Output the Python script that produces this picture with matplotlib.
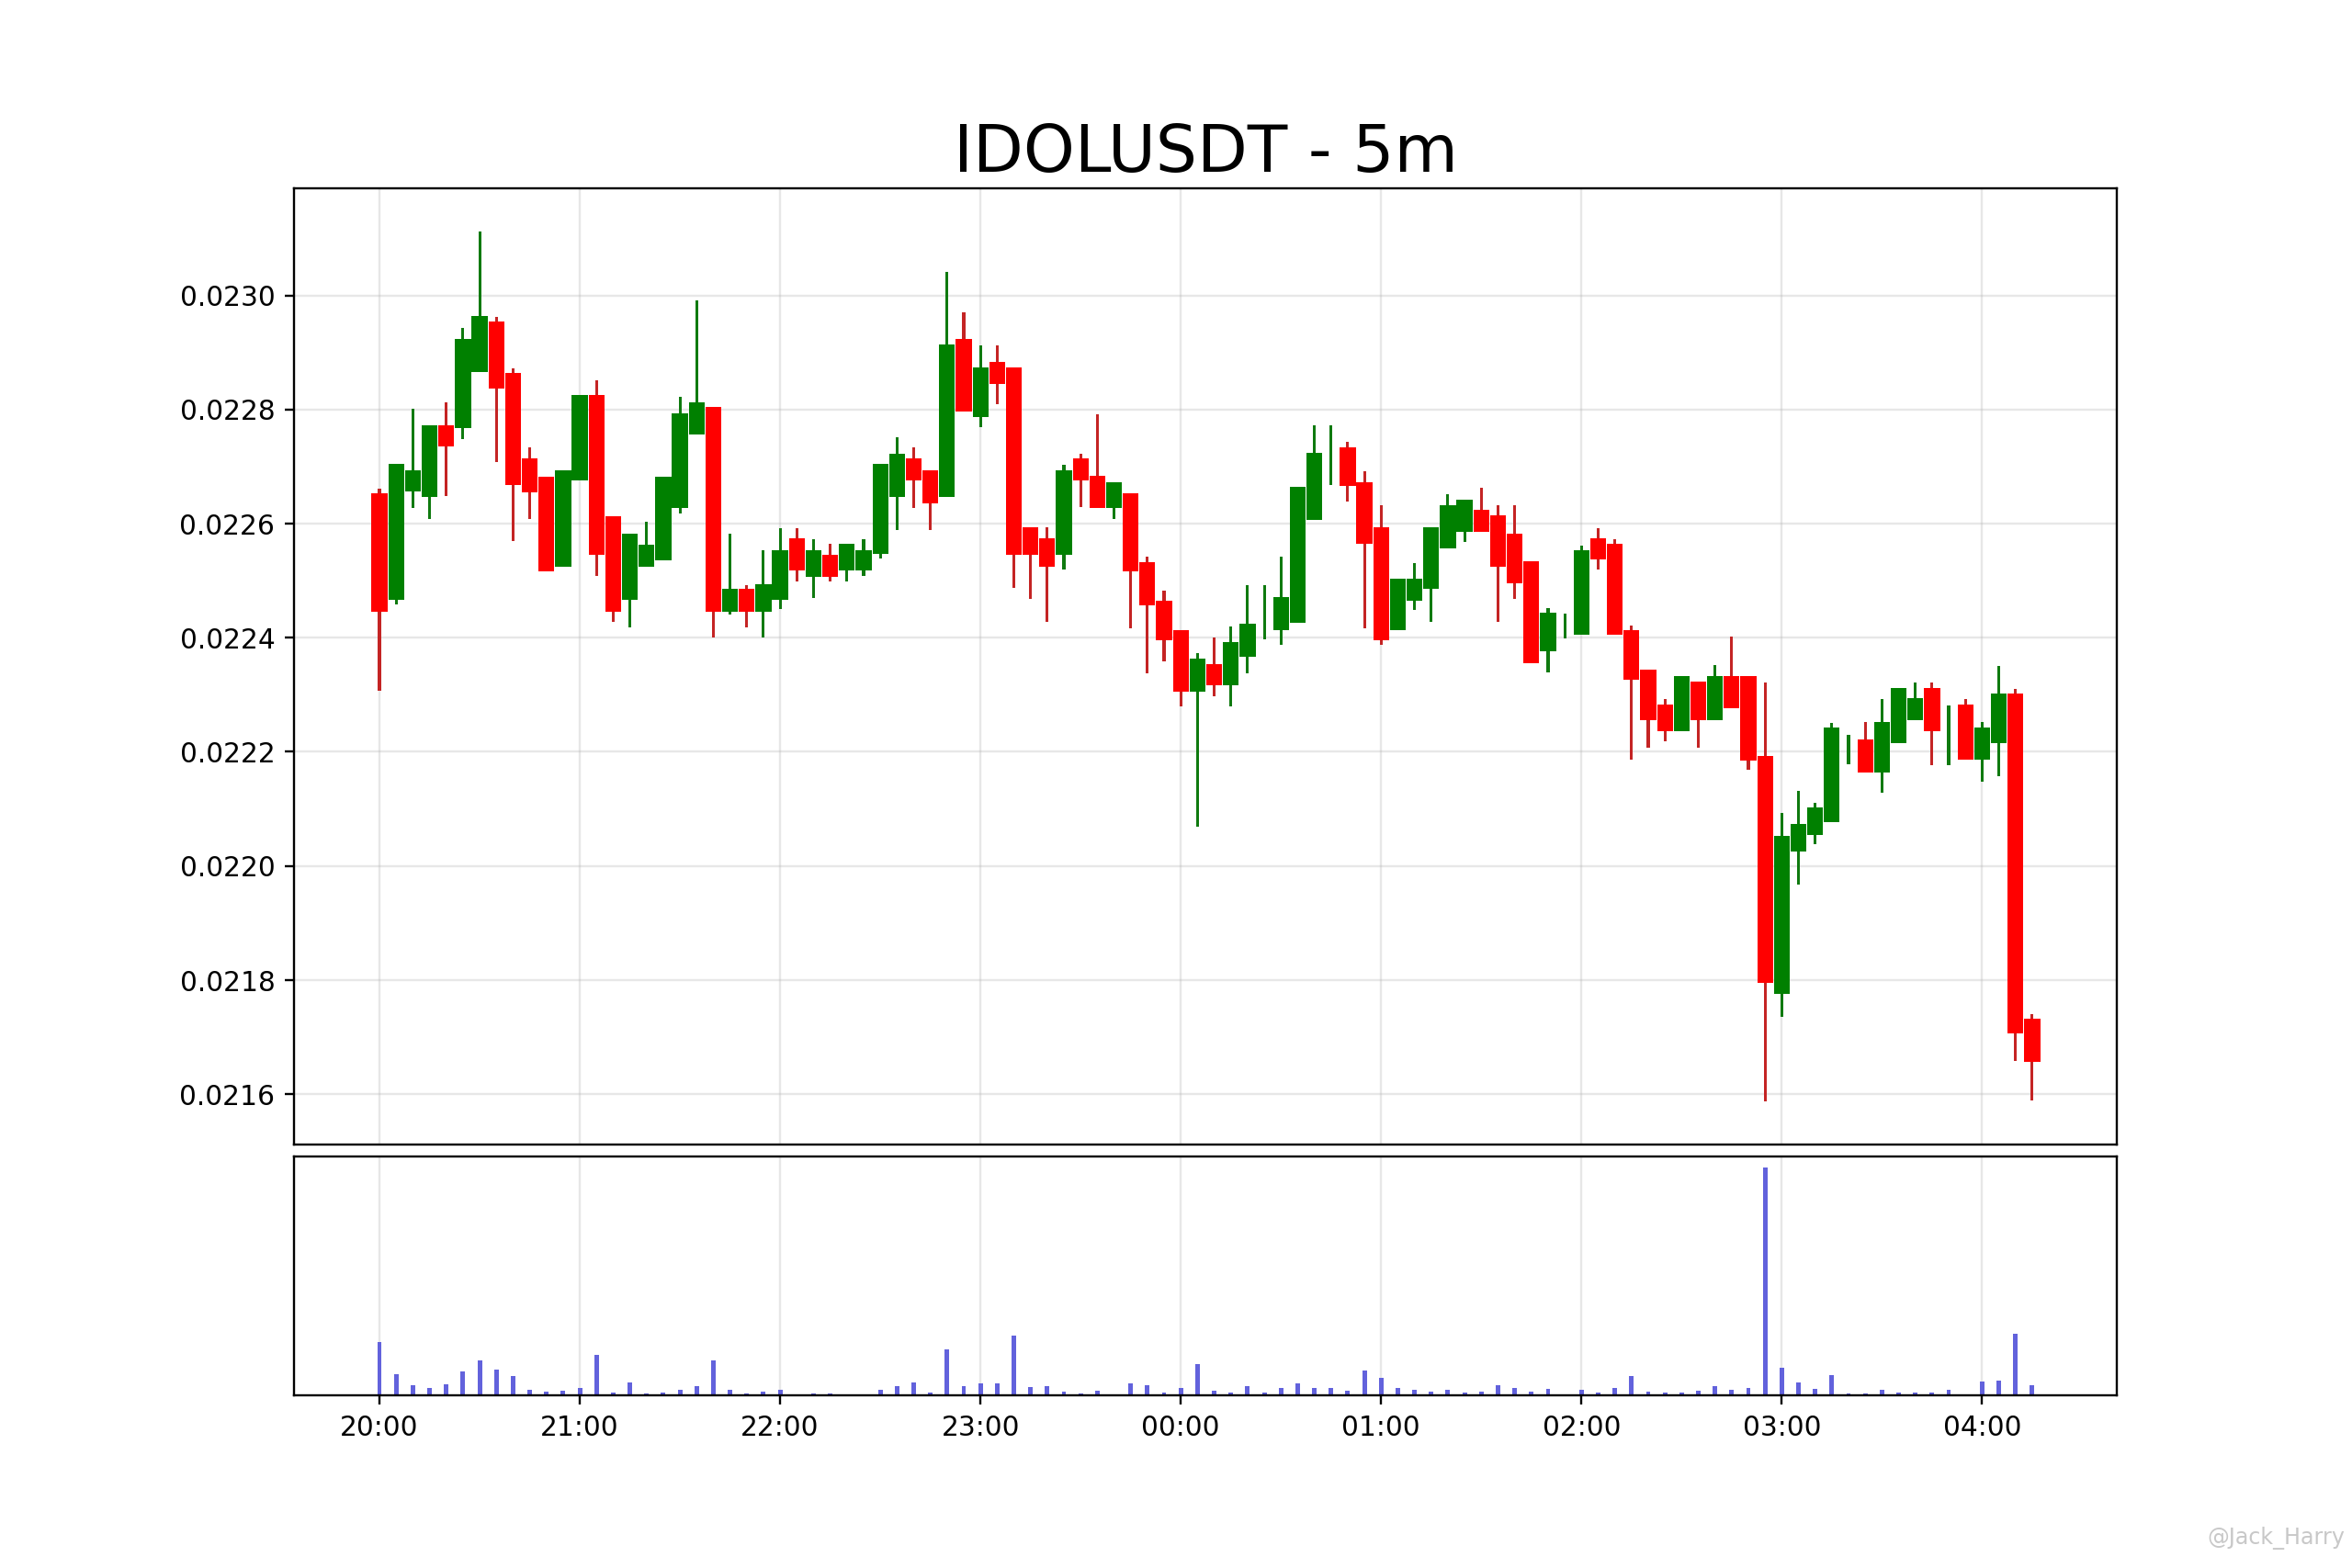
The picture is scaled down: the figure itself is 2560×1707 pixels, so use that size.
# 5분봉 캔들 차트 + 거래량 (IDOLUSDT)

import matplotlib
matplotlib.use('Agg')
import matplotlib.pyplot as plt
import matplotlib.dates as mdates
import matplotlib.ticker as mticker
import numpy as np
import pandas as pd

title = 'IDOLUSDT - 5m'
start_time = '2022-03-01 20:00'
n_candles = 100

# OHLC (5분 간격, 20:00 ~ 04:15)
opens = [0.022654, 0.022467, 0.022657, 0.022647, 0.022773, 0.022767, 0.022866, 0.022955, 0.022864, 0.022714,
         0.022683, 0.022525, 0.022676, 0.022825, 0.022613, 0.022467, 0.022525, 0.022536, 0.022627, 0.022757,
         0.022804, 0.022446, 0.022485, 0.022446, 0.022467, 0.022574, 0.022506, 0.022545, 0.022518, 0.022518,
         0.022547, 0.022647, 0.022714, 0.022694, 0.022647, 0.022923, 0.022787, 0.022883, 0.022874, 0.022593,
         0.022575, 0.022545, 0.022714, 0.022684, 0.022627, 0.022654, 0.022533, 0.022465, 0.022413, 0.022306,
         0.022354, 0.022316, 0.022366, 0.022445, 0.022414, 0.022426, 0.022606, 0.022700, 0.022734, 0.022673,
         0.022593, 0.022414, 0.022465, 0.022486, 0.022557, 0.022586, 0.022624, 0.022614, 0.022583, 0.022534,
         0.022376, 0.022420, 0.022406, 0.022574, 0.022564, 0.022413, 0.022344, 0.022283, 0.022236, 0.022323,
         0.022256, 0.022333, 0.022333, 0.022193, 0.021776, 0.022026, 0.022055, 0.022077, 0.022200, 0.022222,
         0.022164, 0.022215, 0.022255, 0.022312, 0.022220, 0.022283, 0.022186, 0.022215, 0.022303, 0.021733]
highs = [0.022662, 0.022704, 0.022802, 0.022773, 0.022812, 0.022943, 0.023112, 0.022963, 0.022872, 0.022733,
         0.022683, 0.022693, 0.022825, 0.022852, 0.022613, 0.022583, 0.022603, 0.022683, 0.022823, 0.022991,
         0.022804, 0.022582, 0.022493, 0.022553, 0.022592, 0.022592, 0.022573, 0.022564, 0.022564, 0.022573,
         0.022704, 0.022752, 0.022733, 0.022694, 0.023042, 0.022971, 0.022912, 0.022912, 0.022874, 0.022593,
         0.022593, 0.022703, 0.022723, 0.022792, 0.022673, 0.022654, 0.022542, 0.022483, 0.022413, 0.022373,
         0.022401, 0.022420, 0.022492, 0.022492, 0.022542, 0.022664, 0.022773, 0.022773, 0.022743, 0.022692,
         0.022632, 0.022503, 0.022531, 0.022593, 0.022652, 0.022642, 0.022663, 0.022632, 0.022632, 0.022534,
         0.022452, 0.022442, 0.022562, 0.022592, 0.022572, 0.022422, 0.022344, 0.022293, 0.022333, 0.022323,
         0.022352, 0.022402, 0.022333, 0.022322, 0.022093, 0.022132, 0.022111, 0.022251, 0.022230, 0.022252,
         0.022292, 0.022312, 0.022321, 0.022321, 0.022281, 0.022292, 0.022252, 0.022351, 0.022311, 0.021741]
lows = [0.022307, 0.022459, 0.022628, 0.022608, 0.022649, 0.022748, 0.022866, 0.022708, 0.022569, 0.022608,
        0.022516, 0.022525, 0.022676, 0.022509, 0.022428, 0.022418, 0.022525, 0.022536, 0.022618, 0.022757,
        0.022400, 0.022440, 0.022418, 0.022400, 0.022450, 0.022498, 0.022469, 0.022498, 0.022498, 0.022509,
        0.022539, 0.022589, 0.022628, 0.022589, 0.022647, 0.022796, 0.022769, 0.022809, 0.022488, 0.022468,
        0.022428, 0.022519, 0.022629, 0.022627, 0.022608, 0.022417, 0.022338, 0.022358, 0.022279, 0.022068,
        0.022298, 0.022279, 0.022338, 0.022398, 0.022388, 0.022426, 0.022606, 0.022668, 0.022639, 0.022417,
        0.022388, 0.022414, 0.022449, 0.022428, 0.022557, 0.022568, 0.022586, 0.022428, 0.022468, 0.022356,
        0.022339, 0.022399, 0.022406, 0.022519, 0.022406, 0.022187, 0.022208, 0.022218, 0.022236, 0.022208,
        0.022256, 0.022276, 0.022168, 0.021588, 0.021736, 0.021967, 0.022038, 0.022077, 0.022178, 0.022164,
        0.022128, 0.022215, 0.022255, 0.022177, 0.022177, 0.022186, 0.022147, 0.022157, 0.021658, 0.021589]
closes = [0.022445, 0.022704, 0.022693, 0.022773, 0.022735, 0.022924, 0.022964, 0.022837, 0.022667, 0.022655,
          0.022516, 0.022693, 0.022825, 0.022545, 0.022445, 0.022583, 0.022563, 0.022683, 0.022794, 0.022813,
          0.022446, 0.022485, 0.022446, 0.022494, 0.022553, 0.022518, 0.022553, 0.022506, 0.022564, 0.022553,
          0.022704, 0.022723, 0.022676, 0.022636, 0.022914, 0.022796, 0.022874, 0.022845, 0.022545, 0.022545,
          0.022524, 0.022693, 0.022676, 0.022627, 0.022673, 0.022517, 0.022457, 0.022396, 0.022306, 0.022363,
          0.022316, 0.022393, 0.022425, 0.022445, 0.022472, 0.022664, 0.022724, 0.022700, 0.022666, 0.022565,
          0.022396, 0.022503, 0.022503, 0.022593, 0.022633, 0.022642, 0.022586, 0.022524, 0.022496, 0.022356,
          0.022444, 0.022420, 0.022553, 0.022537, 0.022406, 0.022326, 0.022256, 0.022236, 0.022333, 0.022256,
          0.022333, 0.022276, 0.022185, 0.021795, 0.022052, 0.022073, 0.022103, 0.022243, 0.022200, 0.022164,
          0.022253, 0.022312, 0.022294, 0.022236, 0.022220, 0.022186, 0.022242, 0.022303, 0.021706, 0.021656]

# 거래량 (상대값)
volumes = [23.5, 9.4, 4.4, 3.2, 5.0, 10.5, 15.5, 11.3, 8.6, 2.6,
           1.7, 2.2, 3.2, 17.9, 1.3, 5.9, 0.8, 1.1, 2.6, 4.2,
           15.3, 2.4, 0.9, 1.7, 2.7, 0.4, 0.8, 0.8, 0.2, 0.4,
           2.6, 4.2, 5.9, 1.3, 20.2, 4.2, 5.2, 5.2, 26.3, 3.8,
           4.3, 1.7, 0.8, 2.2, 0.2, 5.2, 4.6, 1.3, 3.2, 13.8,
           2.2, 1.3, 4.2, 1.3, 3.2, 5.4, 3.2, 3.2, 2.2, 11.0,
           7.8, 3.4, 2.6, 1.7, 2.4, 1.2, 1.7, 4.4, 3.4, 1.7,
           3.0, 0.2, 2.4, 1.1, 3.2, 8.4, 1.7, 1.1, 1.1, 2.2,
           4.3, 2.6, 3.2, 100.0, 12.2, 5.8, 3.0, 9.0, 0.8, 0.8,
           2.4, 1.3, 1.1, 1.3, 2.6, 0.4, 6.2, 6.5, 27.2, 4.6]

df = pd.DataFrame({'open': opens, 'high': highs, 'low': lows,
                   'close': closes, 'volume': volumes},
                  index=pd.date_range(start_time, periods=n_candles, freq='5min'))

x = mdates.date2num(df.index.to_pydatetime())
step = 5 / (24 * 60)  # 5분 (일 단위)

up = (df['close'] >= df['open']).values
down = ~up

fig = plt.figure(figsize=(12.0001, 8.002), dpi=640 / 3)
gs = fig.add_gridspec(2, 1, height_ratios=[4, 1], hspace=0.02)
ax = fig.add_subplot(gs[0])
ax_v = fig.add_subplot(gs[1], sharex=ax)

# 꼬리 (high-low)
ax.bar(x[up], (df['high'] - df['low']).values[up], step * 0.17,
       bottom=df['low'].values[up], color='#0f7a0f', zorder=2)
ax.bar(x[down], (df['high'] - df['low']).values[down], step * 0.17,
       bottom=df['low'].values[down], color='#c42424', zorder=2)

# 몸통 (open-close)
ax.bar(x[up], (df['close'] - df['open']).values[up], step * 0.95,
       bottom=df['open'].values[up], color='green', zorder=3)
ax.bar(x[down], (df['open'] - df['close']).values[down], step * 0.95,
       bottom=df['close'].values[down], color='red', zorder=3)

# 거래량
ax_v.bar(x, df['volume'].values, step * 0.27, color='#6262dc', zorder=2)

lo, hi = df['low'].min(), df['high'].max()
pad = (hi - lo) * 0.05
ax.set_ylim(lo - pad, hi + pad)
ax.set_xlim(x[0] - 5.12 * step, x[0] + 104.07 * step)

ax.yaxis.set_major_locator(mticker.MultipleLocator(0.0002))
ax.yaxis.set_major_formatter(mticker.FormatStrFormatter('%.4f'))
ax.grid(alpha=0.3)
ax.tick_params(axis='x', bottom=False, labelbottom=False)
ax.set_title(title, fontsize=24)

ax_v.xaxis.set_major_locator(mdates.HourLocator())
ax_v.xaxis.set_major_formatter(mdates.DateFormatter('%H:%M'))
ax_v.set_yticks([])
ax_v.grid(axis='x', alpha=0.3)

fig.text(0.997, 0.012, '@Jack_Harry', ha='right', va='bottom',
         fontsize=8, color='#c8c8c8')

plt.savefig('out.png')
